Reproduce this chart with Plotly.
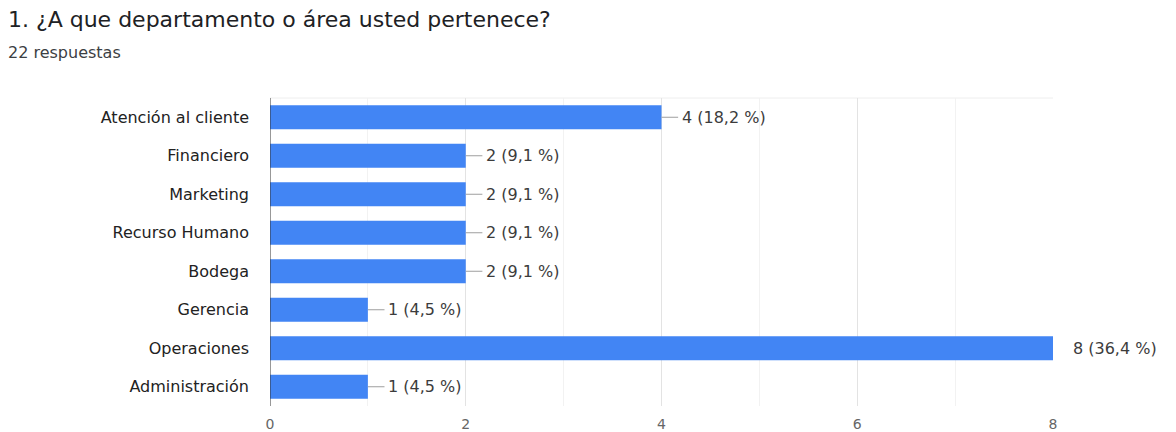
import plotly.graph_objects as go

categories = ["Atención al cliente", "Financiero", "Marketing", "Recurso Humano",
              "Bodega", "Gerencia", "Operaciones", "Administración"]
counts = [4, 2, 2, 2, 2, 1, 8, 1]
percents = ["18,2", "9,1", "9,1", "9,1", "9,1", "4,5", "36,4", "4,5"]
x_ticks = [0, 2, 4, 6, 8]

bar_color = "#4285f4"
FONT = "DejaVu Sans, Verdana, sans-serif"
labels = [f"{c} ({p} %)" for c, p in zip(counts, percents)]
vmax = max(counts)

fig = go.Figure()
fig.add_trace(go.Bar(
    x=counts, y=categories, orientation="h",
    marker=dict(color=bar_color, line=dict(width=0)),
    width=0.62, hoverinfo="skip",
))

# leader lines (about 16px long)
lx, ly = [], []
for c, cat in zip(counts, categories):
    if c < vmax:
        lx += [c, c + 0.17, None]
        ly += [cat, cat, None]
fig.add_trace(go.Scatter(x=lx, y=ly, mode="lines",
                         line=dict(color="#9e9e9e", width=1), hoverinfo="skip"))

annotations = []
for c, cat, lab in zip(counts, categories, labels):
    annotations.append(dict(
        x=c, y=cat, xref="x", yref="y", text=lab, showarrow=False,
        xanchor="left", yanchor="middle", xshift=(18 if c < vmax else 18),
        font=dict(family=FONT, size=16, color="#3c3c3c")))

annotations += [
    dict(text="1. ¿A que departamento o área usted pertenece?", xref="paper", yref="paper",
         x=-264/783, y=1 + 78/308, xanchor="left", yanchor="middle", showarrow=False,
         font=dict(family=FONT, size=22, color="#202124")),
    dict(text="22 respuestas", xref="paper", yref="paper",
         x=-264/783, y=1 + 46/308, xanchor="left", yanchor="middle", showarrow=False,
         font=dict(family=FONT, size=16, color="#3c4043")),
]

fig.update_layout(
    width=1176, height=432,
    margin=dict(l=270, r=123, t=98, b=26),
    paper_bgcolor="white", plot_bgcolor="white",
    showlegend=False,
    xaxis=dict(range=[0, 8], tickvals=x_ticks, showgrid=True, gridcolor="#e3e3e3",
               gridwidth=1, zeroline=False, showline=False, ticks="",
               automargin=False, ticklabelstandoff=8,
               tickfont=dict(family=FONT, size=14, color="#666666"),
               minor=dict(dtick=1, showgrid=True, gridcolor="#f2f2f2", gridwidth=1),
               fixedrange=True),
    yaxis=dict(autorange="reversed", showgrid=False, zeroline=False,
               showline=False, ticks="", ticklabelstandoff=20, automargin=False,
               tickfont=dict(family=FONT, size=16, color="#222222"),
               fixedrange=True),
    annotations=annotations,
    shapes=[
        dict(type="line", xref="paper", yref="paper", x0=0, x1=1, y0=1, y1=1,
             line=dict(color="#eeeeee", width=1), layer="below"),
        dict(type="line", xref="x", yref="paper", x0=0, x1=0, y0=0, y1=1,
             line=dict(color="#333333", width=1)),
    ],
)

fig.write_html("out.html")
